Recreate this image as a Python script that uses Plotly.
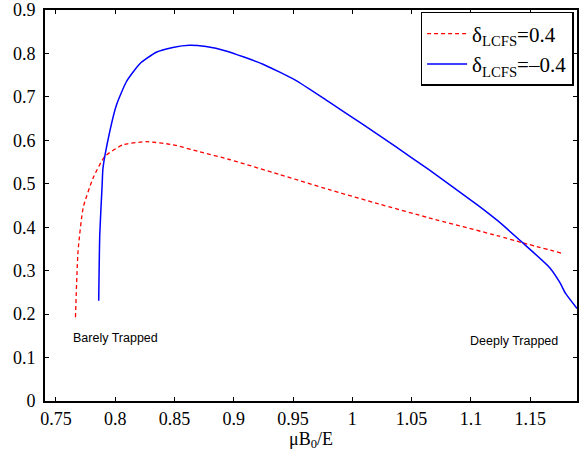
import plotly.graph_objects as go

# values
x_pos = [0.7665, 0.7687, 0.773, 0.7813, 0.7912, 0.8066, 0.8262, 0.8486, 0.871,
         0.8962, 0.938, 0.980, 1.022, 1.0643, 1.1231, 1.1427, 1.1783]
y_pos = [0.193, 0.346, 0.445, 0.513, 0.563, 0.590, 0.597, 0.590, 0.574,
         0.556, 0.522, 0.487, 0.454, 0.422, 0.380, 0.365, 0.339]

x_neg = [0.7861, 0.787, 0.789, 0.7897, 0.7954, 0.801, 0.8094, 0.8206, 0.8346,
         0.8486, 0.8626, 0.8766, 0.8934, 0.9242, 0.9523, 0.980, 1.0083, 1.0363,
         1.0643, 1.1063, 1.1231, 1.1413, 1.1665, 1.175, 1.180, 1.1895]
y_neg = [0.231, 0.384, 0.498, 0.536, 0.620, 0.681, 0.735, 0.776, 0.803,
         0.814, 0.819, 0.816, 0.806, 0.776, 0.738, 0.689, 0.638, 0.586,
         0.533, 0.450, 0.414, 0.370, 0.307, 0.273, 0.247, 0.213]

x_ticks = [0.75, 0.8, 0.85, 0.9, 0.95, 1, 1.05, 1.1, 1.15]
x_labels = ["0.75", "0.8", "0.85", "0.9", "0.95", "1", "1.05", "1.1", "1.15"]
y_ticks = [0, 0.1, 0.2, 0.3, 0.4, 0.5, 0.6, 0.7, 0.8, 0.9]
y_labels = ["0", "0.1", "0.2", "0.3", "0.4", "0.5", "0.6", "0.7", "0.8", "0.9"]

serif = "Times New Roman, Liberation Serif, serif"

fig = go.Figure()
fig.add_trace(go.Scatter(x=x_pos, y=y_pos, mode="lines",
                         name="δ<sub>LCFS</sub>=0.4",
                         line=dict(color="red", width=1.3, dash="4px,3px",
                                   shape="spline", smoothing=0.5)))
fig.add_trace(go.Scatter(x=x_neg, y=y_neg, mode="lines",
                         name="δ<sub>LCFS</sub>=\u20130.4",
                         line=dict(color="blue", width=1.5,
                                   shape="spline", smoothing=0.5)))

fig.add_annotation(x=0.8004, y=0.145, text="Barely Trapped", showarrow=False,
                   font=dict(family="Liberation Sans", size=12.5, color="black"))
fig.add_annotation(x=1.1366, y=0.138, text="Deeply Trapped", showarrow=False,
                   font=dict(family="Liberation Sans", size=12.5, color="black"))

axis_common = dict(showline=True, linecolor="black", linewidth=2,
                   ticks="inside", ticklen=4, tickcolor="black",
                   showgrid=False, zeroline=False, mirror="ticks",
                   ticklabeloverflow="allow")

fig.update_layout(
    width=579, height=467,
    margin=dict(l=45, r=0, t=8, b=66),
    font=dict(family=serif, size=18, color="black"),
    plot_bgcolor="white", paper_bgcolor="white",
    xaxis=dict(range=[0.7408, 1.1895], tickvals=x_ticks, ticktext=x_labels,
               title=dict(text="μB<sub>0</sub>/E", standoff=4,
                          font=dict(family=serif, size=18, color="black")),
               **axis_common),
    yaxis=dict(range=[0, 0.9002], tickvals=y_ticks, ticktext=y_labels,
               ticklabelstandoff=4, **axis_common),
    legend=dict(x=0.706, y=0.995, xanchor="left", yanchor="top",
                bgcolor="white", bordercolor="black", borderwidth=1.5,
                font=dict(family=serif, size=21, color="black"),
                tracegroupgap=0, itemwidth=40),
)
fig.update_xaxes(tickfont=dict(family=serif, size=18, color="black"))
fig.update_yaxes(tickfont=dict(family=serif, size=18, color="black"))

fig.write_html("out.html", config={"displayModeBar": False},
               post_script="document.body.style.margin='0';")
